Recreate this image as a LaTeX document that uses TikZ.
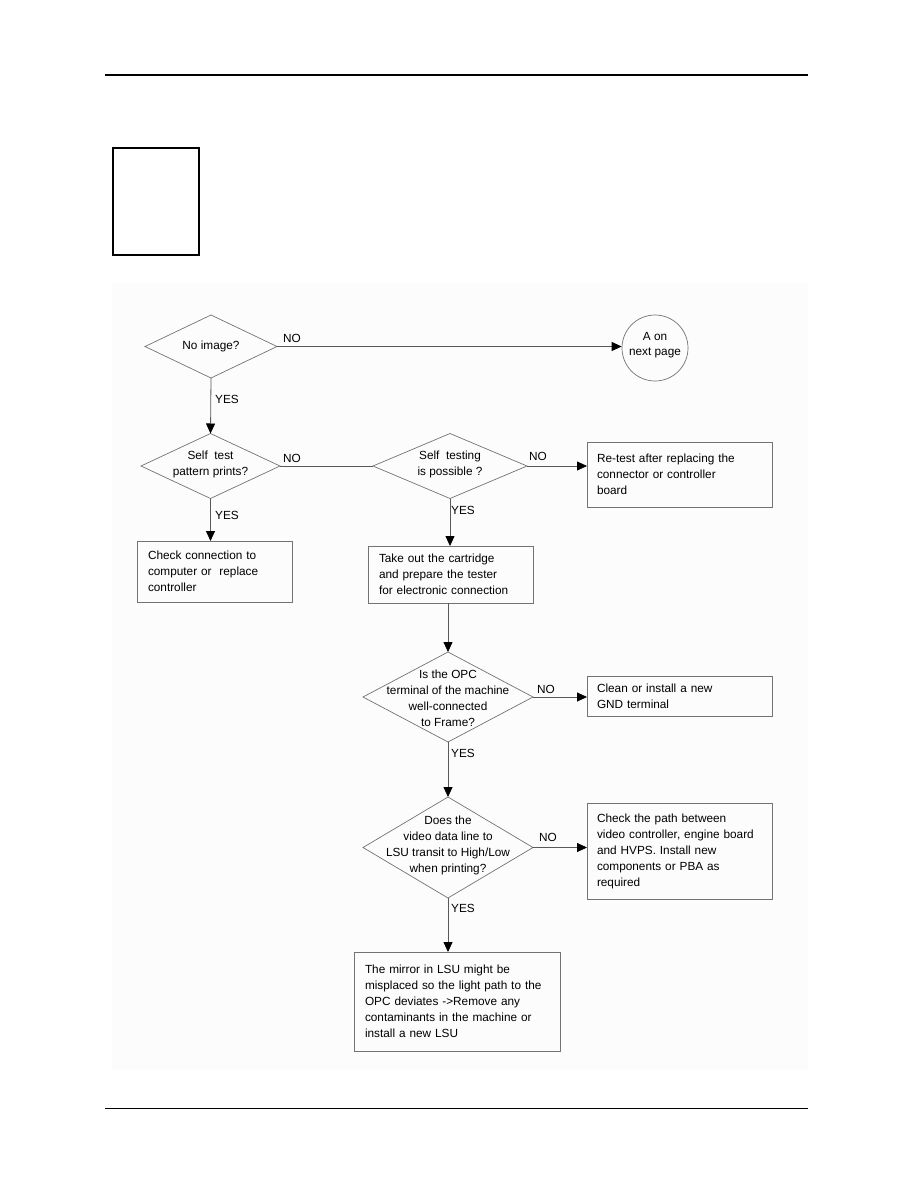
\documentclass[tikz,border=0pt]{standalone}
\usepackage{fontspec}
\setmainfont{Liberation Sans}
\usetikzlibrary{shapes.geometric,arrows.meta,calc}
\tikzset{
  txt/.style={font=\fontsize{11.8}{16}\selectfont, text=black},
  shp/.style={draw=black!55, line width=0.7pt},
  dia/.style={shp, shape=diamond, inner sep=0pt, outer sep=0pt},
  dtext/.style={txt, align=center, inner sep=0pt},
  box/.style={shp, rectangle, txt, align=left, inner xsep=11pt, inner ysep=0pt, outer sep=0pt},
  conn/.style={draw=black!65, line width=0.8pt},
  arr/.style={conn, -{Triangle[length=10pt,width=9pt,color=black]}},
  lab/.style={txt, inner sep=0pt}
}
\begin{document}
\begin{tikzpicture}[x=1pt,y=-1pt]
\useasboundingbox (0,0) rectangle (918,1188);
% page rules
\coordinate (tl) at (105,75);
\coordinate (tr) at (808,75);
\coordinate (bl) at (105,1108);
\coordinate (br) at (808,1108);
\draw[line width=2.2pt] (tl) -- (tr);
\draw[line width=1pt] (bl) -- (br);
% faint background of the chart
\fill[black!1] (112,283) rectangle (808,1070);
% small empty box
\node[draw, line width=2.2pt, minimum width=86pt, minimum height=107pt, inner sep=0pt] (tag) at (156,201.5) {};
% decisions
\node[dia, minimum width=132pt, minimum height=63pt] (d1) at (211,346.5) {};
\node[dtext] at (d1) {No image?};
\node[dia, minimum width=139pt, minimum height=65pt] (d2) at (210.5,466) {};
\node[dtext] at ($(d2)+(0,-2)$) {Self\ \ test\\pattern prints?};
\node[dia, minimum width=154pt, minimum height=65pt] (d3) at (450,466) {};
\node[dtext] at ($(d3)+(0,-2)$) {Self\ \ testing\\is possible ?};
\node[dia, minimum width=170pt, minimum height=90pt] (d4) at (448,697) {};
\node[dtext] at ($(d4)+(0,1)$) {Is the OPC\\terminal of the machine\\well-connected\\to Frame?};
\node[dia, minimum width=170pt, minimum height=101pt] (d5) at (448,847.5) {};
\node[dtext] at ($(d5)+(0,-2)$) {Does the\\video data line to\\LSU transit to High/Low\\when printing?};
% connector circle
\node[shp, circle, minimum size=66pt, inner sep=0pt] (circ) at (655,348) {};
\node[txt, align=center, inner sep=0pt, font=\fontsize{11.8}{15}\selectfont] at ($(circ)+(0,-3)$) {A on\\next page};
% boxes
\node[box, minimum height=61pt, text width=133pt] (b1) at (214.5,571.5) {Check connection to\\computer or\ \ replace\\controller};
\node[box, minimum height=65pt, text width=165pt, inner xsep=10pt] (r1) at (679.5,474.5) {Re-test after replacing the\\connector or controller\\board};
\node[box, minimum height=57pt, text width=143pt] (b2) at (450.5,574.5) {Take out the cartridge\\and prepare the tester\\for electronic connection};
\node[box, minimum height=40pt, text width=165pt, inner xsep=10pt] (r2) at (679.5,696) {Clean or install a new\\GND terminal};
\node[box, minimum height=96pt, text width=165pt, inner xsep=10pt] (r3) at (679.5,851) {Check the path between\\video controller, engine board\\and HVPS. Install new\\components or PBA as\\required};
\node[box, minimum height=99pt, text width=184pt] (b3) at (457,1001.5) {The mirror in LSU might be\\misplaced so the light path to the\\OPC deviates -{}>Remove any\\contaminants in the machine or\\install a new LSU};
% connectors
\draw[arr] (d1.east) -- (d1.east -| circ.west);
\draw[arr] (d1.south) -- (d2.north);
\draw[conn] (d2.east) -- (d3.west);
\draw[arr] (d2.south) -- (d2.south |- b1.north);
\draw[arr] (d3.east) -- (d3.east -| r1.west);
\draw[arr] (d3.south) -- (d3.south |- b2.north);
\draw[arr] (d4.north |- b2.south) -- (d4.north);
\draw[arr] (d4.east) -- (d4.east -| r2.west);
\draw[arr] (d4.south) -- (d5.north);
\draw[arr] (d5.east) -- (d5.east -| r3.west);
\draw[arr] (d5.south) -- (d5.south |- b3.north);
% labels
\node[lab] (n1) at (292,338) {NO};
\node[lab] (y1) at (227,399) {YES};
\node[lab] (n2) at (292,458) {NO};
\node[lab] (y2) at (227,515) {YES};
\node[lab] (n3) at (538,456) {NO};
\node[lab] (y3) at (463,510) {YES};
\node[lab] (n4) at (546,689) {NO};
\node[lab] (y4) at (463,753) {YES};
\node[lab] (n5) at (548,837) {NO};
\node[lab] (y5) at (463,908) {YES};
\end{tikzpicture}
\end{document}
